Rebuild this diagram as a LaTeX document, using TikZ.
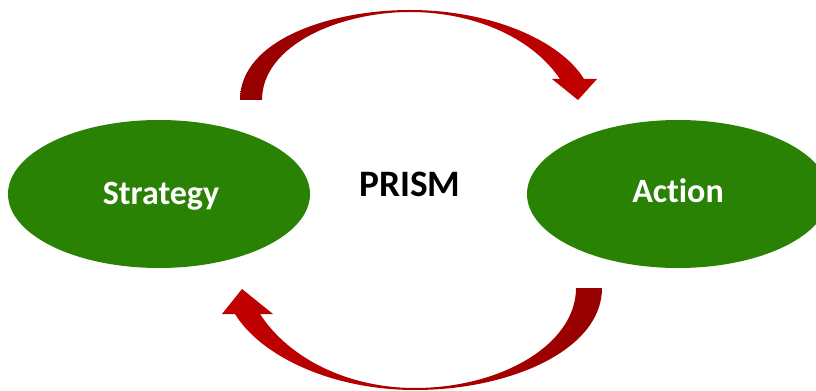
\documentclass[tikz,border=0pt]{standalone}
\usepackage{fontspec}
\setmainfont[Ligatures={NoCommon,NoRequired}]{Carlito}
\usetikzlibrary{shapes.geometric}
\definecolor{leafgreen}{RGB}{41,130,3}
\definecolor{darkred}{RGB}{150,0,0}
\definecolor{brightred}{RGB}{195,0,0}
\tikzset{
  oval/.style={ellipse, fill=leafgreen, minimum width=226.5pt, minimum height=111pt, inner sep=0pt},
  ovaltext/.style={anchor=base, text=white, font=\fontsize{25.5pt}{28pt}\selectfont\bfseries, inner sep=0pt},
  titletext/.style={anchor=base, text=black, font=\fontsize{28pt}{31pt}\selectfont\bfseries, inner sep=0pt},
  bigarrowLR/.style={left color=darkred, right color=brightred},
  bigarrowRL/.style={left color=brightred, right color=darkred}
}
\begin{document}
\begin{tikzpicture}[x=0.75pt, y=-0.75pt]
\useasboundingbox (0,0) rectangle (816,391);
% ellipses
\node[oval] (strategy) at (159,194) {};
\node[oval] (action) at (678,194) {};
\node[ovaltext] (strategytext) at (161,205) {Strategy};
\node[ovaltext] (actiontext) at (678,203) {Ac\kern0pt tion};
\node[titletext] (prism) at (410,197) {PRISM};
% top arrow
\shade[bigarrowLR] (240,100) .. controls (240,40) and (330,10) .. (410,10)
  .. controls (490,10) and (560,40) .. (584,79)
  -- (597,79) -- (578,100) -- (552,79) -- (560,79)
  .. controls (530,35) and (470,12) .. (410,12)
  .. controls (340,12) and (262,45) .. (262,100) -- cycle;
% bottom arrow
\shade[bigarrowRL] (602,288) .. controls (602,350) and (510,390) .. (415,390)
  .. controls (330,390) and (260,355) .. (235,314)
  -- (222,314) -- (242,289) -- (273,314) -- (260,314)
  .. controls (290,360) and (350,388) .. (415,388)
  .. controls (500,388) and (576,345) .. (576,288) -- cycle;
\end{tikzpicture}
\end{document}
